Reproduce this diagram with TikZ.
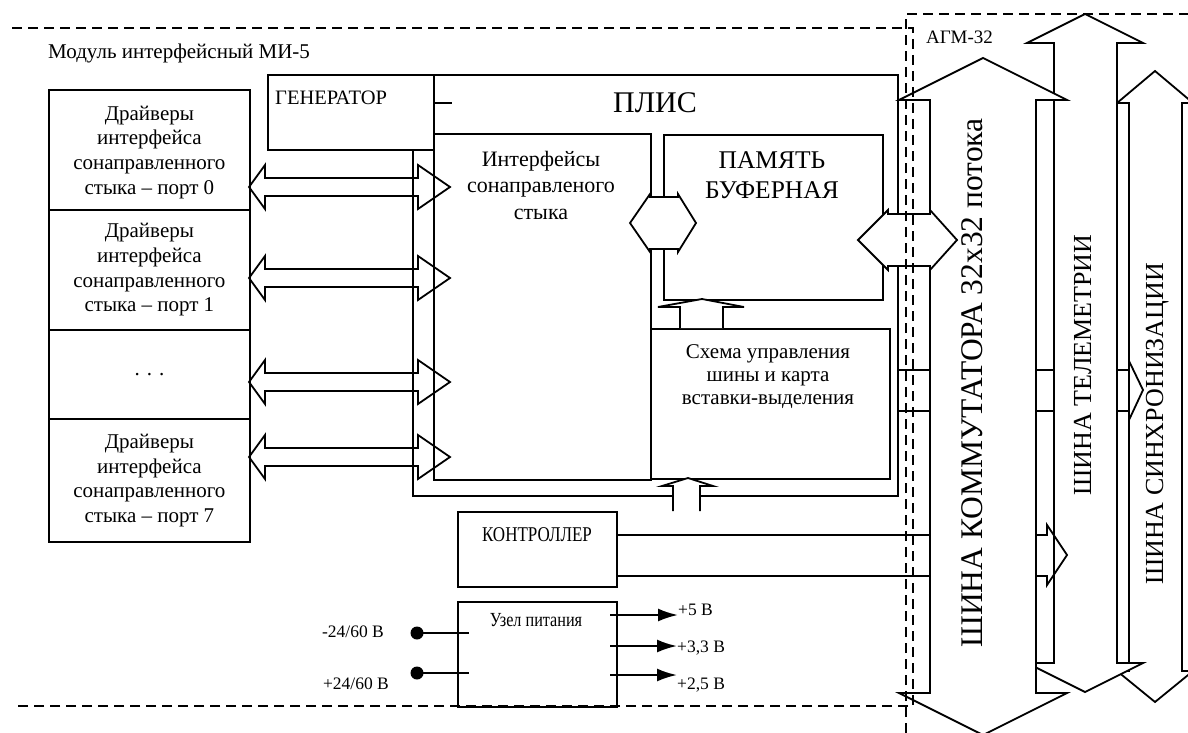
\documentclass[tikz,border=0pt]{standalone}
\usepackage{fontspec}
\setmainfont{Liberation Serif}
\newfontfamily\narrowfont[FakeStretch=0.81]{Liberation Serif}
\usetikzlibrary{positioning, arrows.meta}

\begin{document}
\begin{tikzpicture}[x=1pt, y=-1pt,
  box/.style={draw, line width=1.8pt, inner sep=0pt, anchor=north west,
              align=center, font=\fontsize{21}{24.7}\selectfont},
  blk/.style={draw, line width=1.8pt, line join=miter},
  bus/.style={draw, fill=white, line width=1.8pt, line join=miter},
  frame/.style={line width=1.6pt, dash pattern=on 10pt off 6pt},
  txt/.style={inner sep=0pt, font=\fontsize{21}{24.7}\selectfont},
  bustxt/.style={inner sep=0pt, rotate=90, anchor=base},
  volt/.style={inner sep=0pt, font=\fontsize{17.5}{20}\selectfont},
  pin/.style={-{Latex[length=20pt,width=13pt]}, line width=2.2pt},
  wire/.style={line width=2.2pt},
  dot/.style={circle, fill, inner sep=0pt, minimum size=13pt}
]
\useasboundingbox (0,0) rectangle (1188,733);

% drivers
\node[box, minimum width=201pt, minimum height=120pt] (drv0) at (48,89)
  {\rule{0pt}{19pt}Драйверы\\интерфейса\\сонаправленного\\стыка – порт 0};
\node[box, minimum width=201pt, minimum height=120pt] (drv1) at (48,209)
  {Драйверы\\интерфейса\\сонаправленного\\стыка – порт 1};
\node[box, minimum width=201pt, minimum height=89pt] (drvd) at (48,329) {. . .};
\node[box, minimum width=201pt, minimum height=123pt] (drv7) at (48,418)
  {Драйверы\\интерфейса\\сонаправленного\\стыка – порт 7};

% PLIS and its blocks
\node[box, minimum width=485pt, minimum height=421pt] (plis) at (412,74) {};
\node[box, fill=white, minimum width=166pt, minimum height=75pt] (gen) at (267,74) {};
\node[box, minimum width=217pt, minimum height=346pt] (iface) at (433,133) {};
\node[box, minimum width=219pt, minimum height=165pt] (mem) at (663,134) {};
\node[box, minimum width=239pt, minimum height=150pt] (ctl) at (650,328) {};
\node[box, minimum width=159pt, minimum height=75pt] (mcu) at (457,511) {};
\node[box, minimum width=159pt, minimum height=105pt] (pwr) at (457,601) {};

\node[txt, font=\fontsize{30}{34}\selectfont, anchor=base] (plist) at (655,113) {ПЛИС};
\node[txt, font=\fontsize{20.5}{24}\selectfont, anchor=base west] (gent) at (275,105) {ГЕНЕРАТОР};
\node[txt, font=\fontsize{22}{26.5}\selectfont, align=center] (ifacet) at (541,185)
  {Интерфейсы\\сонаправленого\\стыка};
\node[txt, font=\fontsize{25.5}{30}\selectfont, align=center] (memt) at (772,175)
  {ПАМЯТЬ\\БУФЕРНАЯ};
\node[txt, font=\fontsize{21}{23}\selectfont, align=center] (ctlt) at (768,377)
  {Схема управления\\шины и карта\\вставки-выделения};
\node[txt, font=\narrowfont\fontsize{21}{24}\selectfont, anchor=base] (mcut) at (537,541) {КОНТРОЛЛЕР};
\node[txt, font=\narrowfont\fontsize{20}{24}\selectfont, anchor=base] (pwrt) at (536,626) {Узел питания};
\node[txt, anchor=base west] (modt) at (48,59) {Модуль интерфейсный МИ-5};
\node[txt, font=\fontsize{19}{22}\selectfont, anchor=base west] (agmt) at (926,44) {АГМ-32};

\draw[line width=1.8pt] (gen.north east) ++(0,29) -- ++(17,0);

% port links
\foreach \c in {187,278,382,457}
  \draw[blk] (249,\c) -- (265,\c-22) -- (265,\c-9) -- (418,\c-9) -- (418,\c-22)
    -- (450,\c) -- (418,\c+22) -- (418,\c+9) -- (265,\c+9) -- (265,\c+22) -- cycle;

% inner links
\draw[bus] (630,223) -- (650,194) -- (650,197) -- (678,197) -- (678,194) -- (696,223)
  -- (678,252) -- (678,249) -- (650,249) -- (650,252) -- cycle;
\draw[bus] (680,328) -- (680,307) -- (658,307) -- (702,299) -- (744,307) -- (723,307) -- (723,328);
\draw[bus] (673,511) -- (673,486) -- (662,486) -- (688,478) -- (713,486) -- (700,486) -- (700,511);

% power
\node[volt, anchor=base] (vin1) at (353,637) {-24/60 В};
\node[volt, anchor=base] (vin2) at (356,689) {+24/60 В};
\node[dot] (d1) at (417,633) {};
\node[dot] (d2) at (417,673) {};
\coordinate (in1) at (469,633);
\coordinate (in2) at (469,673);
\draw[wire] (d1.center) -- (in1);
\draw[wire] (d2.center) -- (in2);
\node[volt, anchor=base west] (vo1) at (678,615) {+5 В};
\node[volt, anchor=base west] (vo2) at (677,652) {+3,3 В};
\node[volt, anchor=base west] (vo3) at (677,689) {+2,5 В};
\coordinate (o1) at (610,615);
\coordinate (o2) at (610,646);
\coordinate (o3) at (610,675);
\draw[pin] (o1) -- (vo1.base west);
\draw[pin] (o2) -- (vo2.west |- o2);
\draw[pin] (o3) -- (vo3.west |- o3);

% buses
\draw[bus] (1155,71) -- (1193,103) -- (1182,103) -- (1182,671) -- (1193,671) -- (1155,702)
  -- (1117,671) -- (1129,671) -- (1129,103) -- (1117,103) -- cycle;
\draw[blk] (897,370) -- (1129,370) -- (1129,361) -- (1143,390) -- (1129,420) -- (1129,411) -- (897,411);
\draw[bus] (1085,14) -- (1143,43) -- (1117,43) -- (1117,663) -- (1143,663) -- (1085,692)
  -- (1027,663) -- (1054,663) -- (1054,43) -- (1027,43) -- cycle;
\draw[blk] (mcu.east |- 0,535) -- (1047,535) -- (1047,525) -- (1067,555) -- (1047,585) -- (1047,576) -- (mcu.east |- 0,576);
\draw[bus] (983,58) -- (1067,100) -- (1036,100) -- (1036,693) -- (1067,693) -- (983,735)
  -- (899,693) -- (930,693) -- (930,100) -- (899,100) -- cycle;
\draw[bus] (858,240) -- (888,210) -- (888,214) -- (930,214) -- (930,210) -- (957,240)
  -- (930,270) -- (930,266) -- (888,266) -- (888,270) -- cycle;

\node[bustxt, font=\fontsize{31.5}{36}\selectfont] (bigt) at (982,383) {ШИНА КОММУТАТОРА 32х32 потока};
\node[bustxt, font=\fontsize{26}{30}\selectfont] (telt) at (1091,365) {ШИНА ТЕЛЕМЕТРИИ};
\node[bustxt, font=\fontsize{26}{30}\selectfont] (synt) at (1163,424) {ШИНА СИНХРОНИЗАЦИИ};

% frames
\draw[frame] (12,28) -- (913,28) -- (913,706) -- (12,706);
\draw[frame] (906,733) -- (906,14) -- (1188,14);
\end{tikzpicture}
\end{document}
